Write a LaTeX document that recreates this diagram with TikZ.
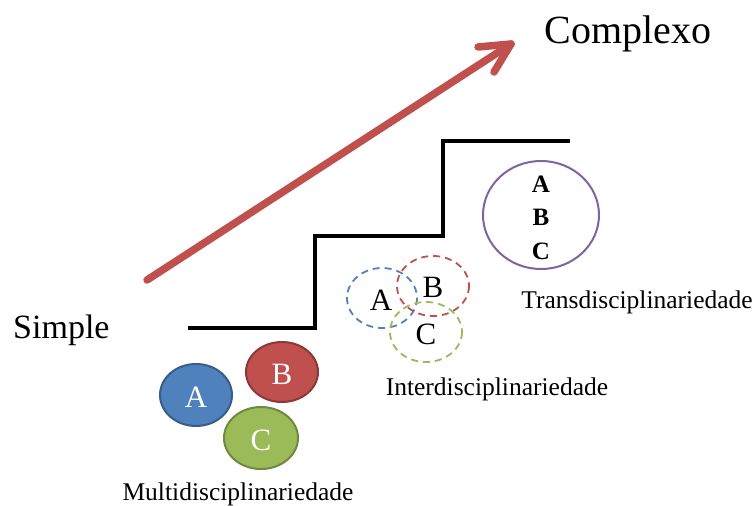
\documentclass[tikz,border=0pt]{standalone}
\usepackage{fontspec}
\setmainfont{Liberation Serif}
\definecolor{cblue}{HTML}{4F81BD}
\definecolor{cbluedk}{HTML}{385D8A}
\definecolor{cred}{HTML}{C0504D}
\definecolor{creddk}{HTML}{8C3836}
\definecolor{cgreen}{HTML}{9BBB59}
\definecolor{cgreendk}{HTML}{71893F}
\definecolor{cpurple}{HTML}{8064A2}
\begin{document}
\begin{tikzpicture}[x=1pt,y=-1pt,
  solidcirc/.style={line width=2pt},
  dashcirc/.style={draw, line width=1.8pt, dash pattern=on 7pt off 5pt},
  letter/.style={font=\fontsize{31}{33}\selectfont, inner sep=0pt},
  tletter/.style={font=\fontsize{25}{27}\selectfont\bfseries, inner sep=0pt},
  lbl/.style={font=\fontsize{25.5}{28}\selectfont, anchor=base, inner sep=0pt},
  stair/.style={line width=3.2pt, line join=miter},
  bigarrow/.style={cred, line width=7.5pt, line cap=round, line join=round}]
\useasboundingbox (0,0) rectangle (756,506);

% labels
\node[font=\fontsize{40}{42}\selectfont, anchor=base, inner sep=0pt] (complexo) at (628,43) {Complexo};
\node[font=\fontsize{34}{36}\selectfont, anchor=base west, inner sep=0pt] (simple) at (13,338) {Simple};

% staircase
\coordinate (s0) at (188,328);
\coordinate (s1) at (315,328);
\coordinate (s2) at (315,236);
\coordinate (s3) at (443,236);
\coordinate (s4) at (443,141);
\coordinate (s5) at (570,141);
\draw[stair] (s0) -- (s1) -- (s2) -- (s3) -- (s4) -- (s5);

% arrow
\coordinate (a0) at (147,280);
\coordinate (a1) at (511,44);
\coordinate (b1) at (478,47);
\coordinate (b2) at (494,72);
\draw[bigarrow] (a0) -- (a1);
\draw[bigarrow] (b1) -- (a1) -- (b2);

% multidisciplinariedade
\draw[solidcirc, fill=cblue, draw=cbluedk] (196,395) ellipse [x radius=36, y radius=31];
\draw[solidcirc, fill=cred, draw=creddk] (282,372) ellipse [x radius=36, y radius=30];
\draw[solidcirc, fill=cgreen, draw=cgreendk] (261,438) ellipse [x radius=37, y radius=31];
\node[letter, text=white] (mA) at (196,397) {A};
\node[letter, text=white] (mB) at (282,374) {B};
\node[letter, text=white] (mC) at (261,440) {C};
\node[lbl] (multi) at (238,500) {Multidisciplinariedade};

% interdisciplinariedade
\draw[dashcirc, cblue] (382,298) ellipse [x radius=35, y radius=30];
\draw[dashcirc, cred] (433,286) ellipse [x radius=36, y radius=30];
\draw[dashcirc, cgreen] (426,332) ellipse [x radius=36, y radius=30];
\node[letter] (iA) at (381,300) {A};
\node[letter] (iB) at (433,287) {B};
\node[letter] (iC) at (426,334) {C};
\node[lbl] (inter) at (497,395) {Interdisciplinariedade};

% transdisciplinariedade
\draw[cpurple, line width=2pt] (541,215) ellipse [x radius=58, y radius=54];
\node[tletter] (tA) at (541,184) {A};
\node[tletter] (tB) at (541,217) {B};
\node[tletter] (tC) at (541,251) {C};
\node[lbl] (trans) at (637,308) {Transdisciplinariedade};
\end{tikzpicture}
\end{document}
